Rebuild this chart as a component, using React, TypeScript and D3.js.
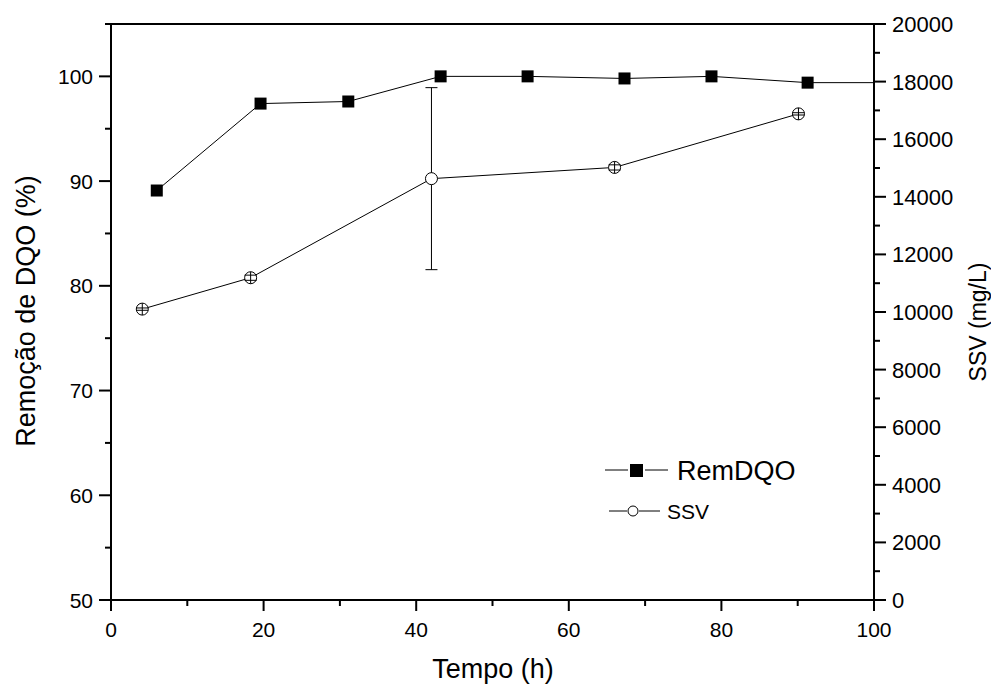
import React from "react";
import * as d3 from "d3";

const remTime = [6.0, 19.6, 31.1, 43.2, 54.6, 67.3, 78.7, 91.3, 104];
const remDQO = [89.1, 97.4, 97.6, 100.0, 100.0, 99.8, 100.0, 99.4, 99.4];

const ssvTime = [4.1, 18.3, 42.0, 66.0, 90.1];
const ssv = [10100, 11190, 14630, 15020, 16880];
const ssvErr = [40, 90, 3160, 90, 40];

const xMajor = [0, 20, 40, 60, 80, 100];
const xMinor = [10, 30, 50, 70, 90];
const yLMajor = [50, 60, 70, 80, 90, 100];
const yLMinor = [55, 65, 75, 85, 95, 105];
const yRMajor = [0, 2000, 4000, 6000, 8000, 10000, 12000, 14000, 16000, 18000, 20000];
const yRMinor = [1000, 3000, 5000, 7000, 9000, 11000, 13000, 15000, 17000, 19000];

const FONT = "'Liberation Sans', Arial, Helvetica, sans-serif";

export default function App() {
  const L = 111, R = 874, T = 24, B = 600;
  const x = d3.scaleLinear().domain([0, 100]).range([L, R]);
  const yL = d3.scaleLinear().domain([50, 105]).range([B, T]);
  const yR = d3.scaleLinear().domain([0, 20000]).range([B, T]);

  const remLine = d3.line<number>().x((_, i) => x(remTime[i])).y((d) => yL(d))(remDQO) || "";
  const ssvLine = d3.line<number>().x((_, i) => x(ssvTime[i])).y((d) => yR(d))(ssv) || "";

  const sq = 12;
  const r = 6;
  const cap = 6;

  return (
    <svg width={991} height={686} style={{ position: "absolute", left: 0, top: 0, background: "#fff" }} fontFamily={FONT}>
      <defs>
        <clipPath id="plotclip">
          <rect x={L} y={T} width={R - L} height={B - T} />
        </clipPath>
      </defs>
      <rect x={0} y={0} width={991} height={686} fill="#fff" />

      {/* frame */}
      <g stroke="#000" strokeWidth={2} fill="none">
        <line x1={L} y1={T} x2={R} y2={T} />
        <line x1={L} y1={B} x2={R} y2={B} />
        <line x1={L} y1={T - 1} x2={L} y2={B + 1} />
        <line x1={R} y1={T - 1} x2={R} y2={B + 1} />
      </g>

      {/* ticks */}
      <g stroke="#000" strokeWidth={2}>
        {xMajor.map((v) => (
          <line key={"xm" + v} x1={x(v)} y1={B} x2={x(v)} y2={B + 11} />
        ))}
        {xMinor.map((v) => (
          <line key={"xn" + v} x1={x(v)} y1={B} x2={x(v)} y2={B + 6} />
        ))}
        {yLMajor.map((v) => (
          <line key={"lm" + v} x1={L} y1={yL(v)} x2={L - 12} y2={yL(v)} />
        ))}
        {yLMinor.map((v) => (
          <line key={"ln" + v} x1={L} y1={yL(v)} x2={L - 6} y2={yL(v)} />
        ))}
        {yRMajor.map((v) => (
          <line key={"rm" + v} x1={R} y1={yR(v)} x2={R + 12} y2={yR(v)} />
        ))}
        {yRMinor.map((v) => (
          <line key={"rn" + v} x1={R} y1={yR(v)} x2={R + 6} y2={yR(v)} />
        ))}
      </g>

      {/* tick labels */}
      <g fontSize={21} fill="#000">
        {xMajor.map((v) => (
          <text key={"xt" + v} x={x(v)} y={637} textAnchor="middle">{v}</text>
        ))}
        {yLMajor.map((v) => (
          <text key={"lt" + v} x={93} y={yL(v) + 7.5} textAnchor="end">{v}</text>
        ))}
      </g>
      <g fontSize={22} fill="#000">
        {yRMajor.map((v) => (
          <text key={"rt" + v} x={892} y={yR(v) + 8} textAnchor="start">{v}</text>
        ))}
      </g>

      {/* axis titles */}
      <text x={493} y={678} fontSize={27} textAnchor="middle">Tempo (h)</text>
      <text transform={`translate(35,311) rotate(-90)`} fontSize={27} textAnchor="middle">Remoção de DQO (%)</text>
      <text transform={`translate(986,322) rotate(-90)`} fontSize={23} textAnchor="middle">SSV (mg/L)</text>

      {/* series */}
      <g clipPath="url(#plotclip)">
        <path d={remLine} fill="none" stroke="#000" strokeWidth={1} />
        <path d={ssvLine} fill="none" stroke="#000" strokeWidth={1} />
      </g>

      {/* SSV error bars & markers */}
      {ssv.map((v, i) => {
        const cx = x(ssvTime[i]);
        const cy = yR(v);
        const yt = yR(v + ssvErr[i]);
        const yb = yR(v - ssvErr[i]);
        const big = cy - yt > r;
        return (
          <g key={"s" + i} stroke="#000" strokeWidth={1}>
            {big && (
              <g>
                <line x1={cx} y1={yt} x2={cx} y2={yb} />
                <line x1={cx - cap} y1={yt} x2={cx + cap} y2={yt} />
                <line x1={cx - cap} y1={yb} x2={cx + cap} y2={yb} />
              </g>
            )}
            <circle cx={cx} cy={cy} r={r} fill="#fff" />
            {!big && (
              <g>
                <line x1={cx} y1={cy - r} x2={cx} y2={cy + r} />
                <line x1={cx - r} y1={yt} x2={cx + r} y2={yt} />
                <line x1={cx - r} y1={yb} x2={cx + r} y2={yb} />
              </g>
            )}
          </g>
        );
      })}

      {/* RemDQO markers */}
      <g clipPath="url(#plotclip)">
        {remDQO.map((v, i) => (
          <rect key={"r" + i} x={x(remTime[i]) - sq / 2} y={yL(v) - sq / 2} width={sq} height={sq} fill="#000" />
        ))}
      </g>

      {/* legend */}
      <g stroke="#000" strokeWidth={1}>
        <line x1={605} y1={470} x2={628} y2={470} />
        <line x1={645} y1={470} x2={668} y2={470} />
        <line x1={609} y1={511} x2={627} y2={511} />
        <line x1={639} y1={511} x2={660} y2={511} />
      </g>
      <rect x={630} y={464} width={13} height={13} fill="#000" />
      <circle cx={633} cy={511} r={5} fill="#fff" stroke="#000" strokeWidth={1} />
      <text x={677} y={480} fontSize={27}>RemDQO</text>
      <text x={667} y={519} fontSize={21}>SSV</text>
    </svg>
  );
}
